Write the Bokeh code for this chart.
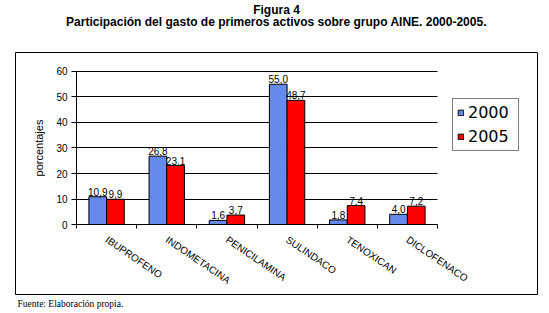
import numpy as np
from bokeh.plotting import figure
from bokeh.models import (Range1d, LinearAxis, FixedTicker, Grid, Title, Legend,
                          LegendItem, ColumnDataSource)
from bokeh.transform import dodge
from bokeh.core.properties import value
from bokeh.embed import file_html
from bokeh.resources import INLINE

# ---- data ----
categories = ["IBUPROFENO", "INDOMETACINA", "PENICILAMINA", "SULINDACO", "TENOXICAN", "DICLOFENACO"]
series_names = ["2000", "2005"]
values_2000 = [10.9, 26.8, 1.6, 55.0, 1.8, 4.0]
values_2005 = [9.9, 23.1, 3.7, 48.7, 7.4, 7.2]
y_ticks = [0, 10, 20, 30, 40, 50, 60]
title_main = "Figura 4"
title_sub = "Participación del gasto de primeros activos sobre grupo AINE. 2000-2005."
y_label = "porcentajes"
source_note = "Fuente: Elaboración propia."

BLUE = "#6689EE"
RED = "#FF0000"
SANS = "Liberation Sans"

n = len(categories)
centers = [i + 0.5 for i in range(n)]
fmt = lambda v: f"{v:.1f}".replace(".", ",")

src = ColumnDataSource(dict(
    x=centers, cat=categories,
    v2000=values_2000, v2005=values_2005,
    l2000=[fmt(v) for v in values_2000], l2005=[fmt(v) for v in values_2005],
))

p = figure(width=549, height=313, output_backend="svg", toolbar_location=None,
           title=None,
           x_range=Range1d(-1.014, 7.662), y_range=Range1d(-27.45, 67.45),
           x_axis_location=None, y_axis_location=None,
           min_border_left=15, min_border_right=12, min_border_top=52, min_border_bottom=19,
           background_fill_color="white", border_fill_color="white",
           outline_line_color="black", outline_line_width=1)
p.xgrid.visible = False
p.ygrid.visible = False

# horizontal grid lines 10..60 across the plot area only
grid_ticks = [t for t in y_ticks if t > 0]
if "cross_bounds" in Grid.properties():
    g = Grid(dimension=1, ticker=FixedTicker(ticks=grid_ticks), grid_line_color="black",
             grid_line_width=1, bounds=(min(grid_ticks), max(grid_ticks)), cross_bounds=(0, n))
    p.add_layout(g)
else:
    p.segment(x0=[0] * len(grid_ticks), x1=[n] * len(grid_ticks), y0=grid_ticks, y1=grid_ticks,
              line_color="black", line_width=1)

# y axis
yaxis = LinearAxis(fixed_location=0, bounds=(min(y_ticks), max(y_ticks)),
                   ticker=FixedTicker(ticks=y_ticks, minor_ticks=[]),
                   axis_label=y_label, axis_label_text_font=SANS, axis_label_text_font_size="11px",
                   axis_label_text_font_style="normal", axis_label_standoff=8,
                   axis_label_text_color="black",
                   major_label_text_font=SANS, major_label_text_font_size="10px",
                   major_label_text_color="black",
                   major_label_standoff=4,
                   major_tick_out=5, major_tick_in=0, minor_tick_out=0, minor_tick_in=0,
                   axis_line_color="black", major_tick_line_color="black")
p.add_layout(yaxis, "left")

# x axis: labels at category centres, tick marks at category boundaries
xaxis = LinearAxis(fixed_location=0, bounds=(0, n),
                   ticker=FixedTicker(ticks=centers, minor_ticks=list(range(n + 1))),
                   major_label_overrides={c: name for c, name in zip(centers, categories)},
                   major_label_orientation=-0.6,
                   major_label_text_font=SANS, major_label_text_font_size="10px",
                   major_label_text_color="black",
                   major_label_standoff=10,
                   major_tick_out=0, major_tick_in=0, minor_tick_out=4, minor_tick_in=0,
                   axis_line_color="black", minor_tick_line_color="black")
p.add_layout(xaxis, "below")

# bars
w = 0.294
r1 = p.vbar(x=dodge("x", -w / 2), top="v2000", width=w, source=src,
            fill_color=BLUE, line_color="black", line_width=1)
r2 = p.vbar(x=dodge("x", w / 2), top="v2005", width=w, source=src,
            fill_color=RED, line_color="black", line_width=1)

for off, col, lab in [(-w / 2, "v2000", "l2000"), (w / 2, "v2005", "l2005")]:
    p.text(x=dodge("x", off), y=col, text=lab, source=src, text_align="center",
           text_baseline="bottom", y_offset=-1, text_font=value(SANS),
           text_font_size="10px", text_color="black")

legend = Legend(items=[LegendItem(label=series_names[0], renderers=[r1]),
                       LegendItem(label=series_names[1], renderers=[r2])],
                location=(437, 143), orientation="vertical",
                border_line_color="black", border_line_width=1,
                background_fill_color="white", background_fill_alpha=1,
                label_text_font="DejaVu Sans", label_text_font_size="16px",
                label_text_color="black",
                glyph_width=7, glyph_height=7, label_standoff=4, label_width=46,
                label_height=14, padding=4, spacing=5, margin=0)
p.add_layout(legend)

# titles: the one added first sits nearest the frame (first an empty spacer)
p.add_layout(Title(text=" ", text_font_size="1px", standoff=21), "above")
p.add_layout(Title(text=title_sub, align="center", text_font=SANS, text_font_size="12px",
                   text_font_style="bold", text_color="black", offset=4,
                   vertical_align="bottom", standoff=-1.6), "above")
p.add_layout(Title(text=title_main, align="center", text_font=SANS, text_font_size="12px",
                   text_font_style="bold", text_color="black", offset=4,
                   vertical_align="bottom", standoff=-4.4), "above")
p.add_layout(Title(text=source_note, align="left", text_font="Liberation Serif",
                   text_font_size="9.5px", text_font_style="normal", text_color="black",
                   offset=2, standoff=5), "below")

open("out.html", "w").write(file_html(p, INLINE))
